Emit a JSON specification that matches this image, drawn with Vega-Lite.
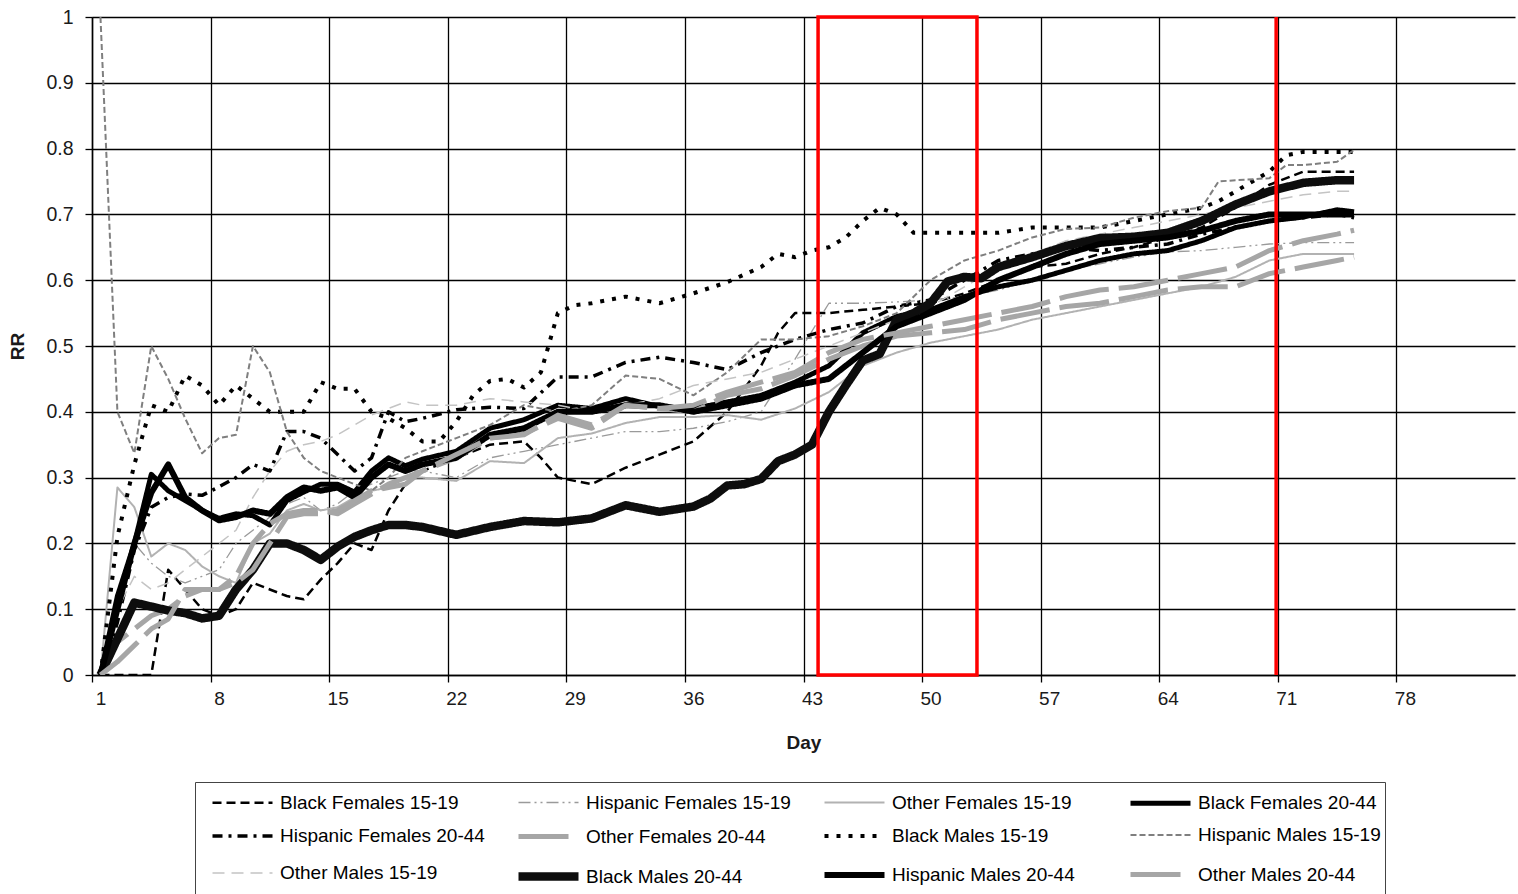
{
  "$schema": "https://vega.github.io/schema/vega-lite/v6.json",
  "width": 1423,
  "height": 658,
  "autosize": {"type": "none"},
  "padding": {"left": 92, "top": 17, "right": 3, "bottom": 219},
  "background": "white",
  "config": {
    "view": {"stroke": null},
    "font": "Liberation Sans",
    "axis": {"labelFont": "Liberation Sans", "titleFont": "Liberation Sans"}
  },
  "datasets": {
    "rr": [
      {"series":"Black Females 15-19","day":1,"rr":0},{"series":"Black Females 15-19","day":2,"rr":0},{"series":"Black Females 15-19","day":3,"rr":0},{"series":"Black Females 15-19","day":4,"rr":0},{"series":"Black Females 15-19","day":5,"rr":0.16},{"series":"Black Females 15-19","day":6,"rr":0.13},{"series":"Black Females 15-19","day":7,"rr":0.1},{"series":"Black Females 15-19","day":8,"rr":0.09},{"series":"Black Females 15-19","day":9,"rr":0.1},{"series":"Black Females 15-19","day":10,"rr":0.14},{"series":"Black Females 15-19","day":11,"rr":0.13},{"series":"Black Females 15-19","day":12,"rr":0.12},{"series":"Black Females 15-19","day":13,"rr":0.115},{"series":"Black Females 15-19","day":14,"rr":0.145},{"series":"Black Females 15-19","day":15,"rr":0.17},{"series":"Black Females 15-19","day":16,"rr":0.2},{"series":"Black Females 15-19","day":17,"rr":0.19},{"series":"Black Females 15-19","day":18,"rr":0.25},{"series":"Black Females 15-19","day":19,"rr":0.29},{"series":"Black Females 15-19","day":20,"rr":0.31},{"series":"Black Females 15-19","day":22,"rr":0.33},{"series":"Black Females 15-19","day":24,"rr":0.35},{"series":"Black Females 15-19","day":26,"rr":0.355},{"series":"Black Females 15-19","day":27,"rr":0.33},{"series":"Black Females 15-19","day":28,"rr":0.3},{"series":"Black Females 15-19","day":30,"rr":0.29},{"series":"Black Females 15-19","day":32,"rr":0.315},{"series":"Black Females 15-19","day":34,"rr":0.335},{"series":"Black Females 15-19","day":36,"rr":0.355},{"series":"Black Females 15-19","day":38,"rr":0.4},{"series":"Black Females 15-19","day":40,"rr":0.47},{"series":"Black Females 15-19","day":41,"rr":0.52},{"series":"Black Females 15-19","day":42,"rr":0.55},{"series":"Black Females 15-19","day":44,"rr":0.55},{"series":"Black Females 15-19","day":46,"rr":0.555},{"series":"Black Females 15-19","day":48,"rr":0.56},{"series":"Black Females 15-19","day":50,"rr":0.565},{"series":"Black Females 15-19","day":52,"rr":0.58},{"series":"Black Females 15-19","day":54,"rr":0.6},{"series":"Black Females 15-19","day":56,"rr":0.62},{"series":"Black Females 15-19","day":58,"rr":0.625},{"series":"Black Females 15-19","day":60,"rr":0.64},{"series":"Black Females 15-19","day":62,"rr":0.65},{"series":"Black Females 15-19","day":64,"rr":0.665},{"series":"Black Females 15-19","day":66,"rr":0.68},{"series":"Black Females 15-19","day":68,"rr":0.71},{"series":"Black Females 15-19","day":70,"rr":0.745},{"series":"Black Females 15-19","day":72,"rr":0.765},{"series":"Black Females 15-19","day":74,"rr":0.765},{"series":"Black Females 15-19","day":75,"rr":0.765},

      {"series":"Hispanic Females 15-19","day":1,"rr":0},{"series":"Hispanic Females 15-19","day":2,"rr":0.12},{"series":"Hispanic Females 15-19","day":3,"rr":0.2},{"series":"Hispanic Females 15-19","day":4,"rr":0.17},{"series":"Hispanic Females 15-19","day":5,"rr":0.15},{"series":"Hispanic Females 15-19","day":6,"rr":0.14},{"series":"Hispanic Females 15-19","day":7,"rr":0.15},{"series":"Hispanic Females 15-19","day":8,"rr":0.16},{"series":"Hispanic Females 15-19","day":9,"rr":0.2},{"series":"Hispanic Females 15-19","day":10,"rr":0.22},{"series":"Hispanic Females 15-19","day":11,"rr":0.24},{"series":"Hispanic Females 15-19","day":12,"rr":0.26},{"series":"Hispanic Females 15-19","day":13,"rr":0.27},{"series":"Hispanic Females 15-19","day":14,"rr":0.25},{"series":"Hispanic Females 15-19","day":15,"rr":0.26},{"series":"Hispanic Females 15-19","day":16,"rr":0.28},{"series":"Hispanic Females 15-19","day":17,"rr":0.29},{"series":"Hispanic Females 15-19","day":18,"rr":0.3},{"series":"Hispanic Females 15-19","day":19,"rr":0.31},{"series":"Hispanic Females 15-19","day":20,"rr":0.31},{"series":"Hispanic Females 15-19","day":22,"rr":0.3},{"series":"Hispanic Females 15-19","day":24,"rr":0.33},{"series":"Hispanic Females 15-19","day":26,"rr":0.34},{"series":"Hispanic Females 15-19","day":28,"rr":0.35},{"series":"Hispanic Females 15-19","day":30,"rr":0.36},{"series":"Hispanic Females 15-19","day":32,"rr":0.37},{"series":"Hispanic Females 15-19","day":34,"rr":0.37},{"series":"Hispanic Females 15-19","day":36,"rr":0.375},{"series":"Hispanic Females 15-19","day":38,"rr":0.385},{"series":"Hispanic Females 15-19","day":40,"rr":0.4},{"series":"Hispanic Females 15-19","day":42,"rr":0.48},{"series":"Hispanic Females 15-19","day":44,"rr":0.565},{"series":"Hispanic Females 15-19","day":46,"rr":0.565},{"series":"Hispanic Females 15-19","day":48,"rr":0.567},{"series":"Hispanic Females 15-19","day":50,"rr":0.57},{"series":"Hispanic Females 15-19","day":52,"rr":0.575},{"series":"Hispanic Females 15-19","day":54,"rr":0.585},{"series":"Hispanic Females 15-19","day":56,"rr":0.6},{"series":"Hispanic Females 15-19","day":58,"rr":0.615},{"series":"Hispanic Females 15-19","day":60,"rr":0.625},{"series":"Hispanic Females 15-19","day":62,"rr":0.635},{"series":"Hispanic Females 15-19","day":64,"rr":0.643},{"series":"Hispanic Females 15-19","day":66,"rr":0.645},{"series":"Hispanic Females 15-19","day":68,"rr":0.65},{"series":"Hispanic Females 15-19","day":70,"rr":0.655},{"series":"Hispanic Females 15-19","day":72,"rr":0.657},{"series":"Hispanic Females 15-19","day":74,"rr":0.657},{"series":"Hispanic Females 15-19","day":75,"rr":0.657},

      {"series":"Other Females 15-19","day":1,"rr":0},{"series":"Other Females 15-19","day":2,"rr":0.285},{"series":"Other Females 15-19","day":3,"rr":0.255},{"series":"Other Females 15-19","day":4,"rr":0.18},{"series":"Other Females 15-19","day":5,"rr":0.2},{"series":"Other Females 15-19","day":6,"rr":0.19},{"series":"Other Females 15-19","day":7,"rr":0.165},{"series":"Other Females 15-19","day":8,"rr":0.15},{"series":"Other Females 15-19","day":9,"rr":0.14},{"series":"Other Females 15-19","day":10,"rr":0.2},{"series":"Other Females 15-19","day":11,"rr":0.215},{"series":"Other Females 15-19","day":12,"rr":0.25},{"series":"Other Females 15-19","day":13,"rr":0.26},{"series":"Other Females 15-19","day":14,"rr":0.25},{"series":"Other Females 15-19","day":15,"rr":0.255},{"series":"Other Females 15-19","day":16,"rr":0.27},{"series":"Other Females 15-19","day":17,"rr":0.28},{"series":"Other Females 15-19","day":18,"rr":0.285},{"series":"Other Females 15-19","day":19,"rr":0.3},{"series":"Other Females 15-19","day":20,"rr":0.3},{"series":"Other Females 15-19","day":22,"rr":0.295},{"series":"Other Females 15-19","day":24,"rr":0.325},{"series":"Other Females 15-19","day":26,"rr":0.322},{"series":"Other Females 15-19","day":28,"rr":0.36},{"series":"Other Females 15-19","day":30,"rr":0.367},{"series":"Other Females 15-19","day":32,"rr":0.383},{"series":"Other Females 15-19","day":34,"rr":0.392},{"series":"Other Females 15-19","day":36,"rr":0.392},{"series":"Other Females 15-19","day":38,"rr":0.395},{"series":"Other Females 15-19","day":40,"rr":0.388},{"series":"Other Females 15-19","day":42,"rr":0.405},{"series":"Other Females 15-19","day":44,"rr":0.43},{"series":"Other Females 15-19","day":46,"rr":0.47},{"series":"Other Females 15-19","day":48,"rr":0.49},{"series":"Other Females 15-19","day":50,"rr":0.505},{"series":"Other Females 15-19","day":52,"rr":0.515},{"series":"Other Females 15-19","day":54,"rr":0.525},{"series":"Other Females 15-19","day":56,"rr":0.54},{"series":"Other Females 15-19","day":58,"rr":0.55},{"series":"Other Females 15-19","day":60,"rr":0.56},{"series":"Other Females 15-19","day":62,"rr":0.57},{"series":"Other Females 15-19","day":64,"rr":0.58},{"series":"Other Females 15-19","day":66,"rr":0.59},{"series":"Other Females 15-19","day":68,"rr":0.605},{"series":"Other Females 15-19","day":70,"rr":0.63},{"series":"Other Females 15-19","day":72,"rr":0.64},{"series":"Other Females 15-19","day":74,"rr":0.64},{"series":"Other Females 15-19","day":75,"rr":0.64},

      {"series":"Black Females 20-44","day":1,"rr":0},{"series":"Black Females 20-44","day":2,"rr":0.12},{"series":"Black Females 20-44","day":3,"rr":0.2},{"series":"Black Females 20-44","day":4,"rr":0.305},{"series":"Black Females 20-44","day":5,"rr":0.28},{"series":"Black Females 20-44","day":6,"rr":0.265},{"series":"Black Females 20-44","day":7,"rr":0.25},{"series":"Black Females 20-44","day":8,"rr":0.238},{"series":"Black Females 20-44","day":9,"rr":0.245},{"series":"Black Females 20-44","day":10,"rr":0.242},{"series":"Black Females 20-44","day":11,"rr":0.228},{"series":"Black Females 20-44","day":12,"rr":0.265},{"series":"Black Females 20-44","day":13,"rr":0.278},{"series":"Black Females 20-44","day":14,"rr":0.29},{"series":"Black Females 20-44","day":15,"rr":0.29},{"series":"Black Females 20-44","day":16,"rr":0.278},{"series":"Black Females 20-44","day":17,"rr":0.31},{"series":"Black Females 20-44","day":18,"rr":0.33},{"series":"Black Females 20-44","day":19,"rr":0.318},{"series":"Black Females 20-44","day":20,"rr":0.328},{"series":"Black Females 20-44","day":22,"rr":0.34},{"series":"Black Females 20-44","day":24,"rr":0.375},{"series":"Black Females 20-44","day":26,"rr":0.388},{"series":"Black Females 20-44","day":28,"rr":0.41},{"series":"Black Females 20-44","day":30,"rr":0.405},{"series":"Black Females 20-44","day":32,"rr":0.42},{"series":"Black Females 20-44","day":34,"rr":0.408},{"series":"Black Females 20-44","day":36,"rr":0.405},{"series":"Black Females 20-44","day":38,"rr":0.415},{"series":"Black Females 20-44","day":40,"rr":0.425},{"series":"Black Females 20-44","day":42,"rr":0.445},{"series":"Black Females 20-44","day":44,"rr":0.47},{"series":"Black Females 20-44","day":46,"rr":0.52},{"series":"Black Females 20-44","day":48,"rr":0.545},{"series":"Black Females 20-44","day":50,"rr":0.555},{"series":"Black Females 20-44","day":52,"rr":0.575},{"series":"Black Females 20-44","day":54,"rr":0.59},{"series":"Black Females 20-44","day":56,"rr":0.6},{"series":"Black Females 20-44","day":58,"rr":0.615},{"series":"Black Females 20-44","day":60,"rr":0.63},{"series":"Black Females 20-44","day":62,"rr":0.64},{"series":"Black Females 20-44","day":64,"rr":0.645},{"series":"Black Females 20-44","day":66,"rr":0.66},{"series":"Black Females 20-44","day":68,"rr":0.68},{"series":"Black Females 20-44","day":70,"rr":0.69},{"series":"Black Females 20-44","day":72,"rr":0.696},{"series":"Black Females 20-44","day":74,"rr":0.707},{"series":"Black Females 20-44","day":75,"rr":0.704},

      {"series":"Hispanic Females 20-44","day":1,"rr":0},{"series":"Hispanic Females 20-44","day":2,"rr":0.08},{"series":"Hispanic Females 20-44","day":3,"rr":0.19},{"series":"Hispanic Females 20-44","day":4,"rr":0.255},{"series":"Hispanic Females 20-44","day":5,"rr":0.27},{"series":"Hispanic Females 20-44","day":6,"rr":0.275},{"series":"Hispanic Females 20-44","day":7,"rr":0.273},{"series":"Hispanic Females 20-44","day":8,"rr":0.286},{"series":"Hispanic Females 20-44","day":9,"rr":0.3},{"series":"Hispanic Females 20-44","day":10,"rr":0.32},{"series":"Hispanic Females 20-44","day":11,"rr":0.31},{"series":"Hispanic Females 20-44","day":12,"rr":0.37},{"series":"Hispanic Females 20-44","day":13,"rr":0.37},{"series":"Hispanic Females 20-44","day":14,"rr":0.36},{"series":"Hispanic Females 20-44","day":15,"rr":0.335},{"series":"Hispanic Females 20-44","day":16,"rr":0.31},{"series":"Hispanic Females 20-44","day":17,"rr":0.33},{"series":"Hispanic Females 20-44","day":18,"rr":0.4},{"series":"Hispanic Females 20-44","day":19,"rr":0.385},{"series":"Hispanic Females 20-44","day":20,"rr":0.39},{"series":"Hispanic Females 20-44","day":22,"rr":0.403},{"series":"Hispanic Females 20-44","day":24,"rr":0.407},{"series":"Hispanic Females 20-44","day":26,"rr":0.405},{"series":"Hispanic Females 20-44","day":28,"rr":0.453},{"series":"Hispanic Females 20-44","day":30,"rr":0.453},{"series":"Hispanic Females 20-44","day":32,"rr":0.475},{"series":"Hispanic Females 20-44","day":34,"rr":0.483},{"series":"Hispanic Females 20-44","day":36,"rr":0.475},{"series":"Hispanic Females 20-44","day":38,"rr":0.464},{"series":"Hispanic Females 20-44","day":40,"rr":0.49},{"series":"Hispanic Females 20-44","day":42,"rr":0.51},{"series":"Hispanic Females 20-44","day":44,"rr":0.525},{"series":"Hispanic Females 20-44","day":46,"rr":0.535},{"series":"Hispanic Females 20-44","day":48,"rr":0.56},{"series":"Hispanic Females 20-44","day":50,"rr":0.57},{"series":"Hispanic Females 20-44","day":52,"rr":0.6},{"series":"Hispanic Females 20-44","day":54,"rr":0.63},{"series":"Hispanic Females 20-44","day":56,"rr":0.64},{"series":"Hispanic Females 20-44","day":58,"rr":0.65},{"series":"Hispanic Females 20-44","day":60,"rr":0.645},{"series":"Hispanic Females 20-44","day":62,"rr":0.65},{"series":"Hispanic Females 20-44","day":64,"rr":0.655},{"series":"Hispanic Females 20-44","day":66,"rr":0.67},{"series":"Hispanic Females 20-44","day":68,"rr":0.68},{"series":"Hispanic Females 20-44","day":70,"rr":0.69},{"series":"Hispanic Females 20-44","day":72,"rr":0.695},{"series":"Hispanic Females 20-44","day":74,"rr":0.7},{"series":"Hispanic Females 20-44","day":75,"rr":0.695},

      {"series":"Other Females 20-44","day":1,"rr":0},{"series":"Other Females 20-44","day":2,"rr":0.05},{"series":"Other Females 20-44","day":3,"rr":0.07},{"series":"Other Females 20-44","day":4,"rr":0.09},{"series":"Other Females 20-44","day":5,"rr":0.1},{"series":"Other Females 20-44","day":6,"rr":0.12},{"series":"Other Females 20-44","day":7,"rr":0.13},{"series":"Other Females 20-44","day":8,"rr":0.13},{"series":"Other Females 20-44","day":9,"rr":0.15},{"series":"Other Females 20-44","day":10,"rr":0.2},{"series":"Other Females 20-44","day":11,"rr":0.23},{"series":"Other Females 20-44","day":12,"rr":0.245},{"series":"Other Females 20-44","day":13,"rr":0.25},{"series":"Other Females 20-44","day":14,"rr":0.25},{"series":"Other Females 20-44","day":15,"rr":0.245},{"series":"Other Females 20-44","day":16,"rr":0.26},{"series":"Other Females 20-44","day":17,"rr":0.275},{"series":"Other Females 20-44","day":18,"rr":0.29},{"series":"Other Females 20-44","day":19,"rr":0.3},{"series":"Other Females 20-44","day":20,"rr":0.31},{"series":"Other Females 20-44","day":22,"rr":0.33},{"series":"Other Females 20-44","day":24,"rr":0.36},{"series":"Other Females 20-44","day":26,"rr":0.367},{"series":"Other Females 20-44","day":28,"rr":0.39},{"series":"Other Females 20-44","day":30,"rr":0.375},{"series":"Other Females 20-44","day":32,"rr":0.41},{"series":"Other Females 20-44","day":34,"rr":0.405},{"series":"Other Females 20-44","day":36,"rr":0.4},{"series":"Other Females 20-44","day":38,"rr":0.425},{"series":"Other Females 20-44","day":40,"rr":0.435},{"series":"Other Females 20-44","day":42,"rr":0.455},{"series":"Other Females 20-44","day":44,"rr":0.48},{"series":"Other Females 20-44","day":46,"rr":0.5},{"series":"Other Females 20-44","day":48,"rr":0.515},{"series":"Other Females 20-44","day":50,"rr":0.52},{"series":"Other Females 20-44","day":52,"rr":0.525},{"series":"Other Females 20-44","day":54,"rr":0.54},{"series":"Other Females 20-44","day":56,"rr":0.55},{"series":"Other Females 20-44","day":58,"rr":0.56},{"series":"Other Females 20-44","day":60,"rr":0.565},{"series":"Other Females 20-44","day":62,"rr":0.575},{"series":"Other Females 20-44","day":64,"rr":0.585},{"series":"Other Females 20-44","day":66,"rr":0.59},{"series":"Other Females 20-44","day":68,"rr":0.59},{"series":"Other Females 20-44","day":70,"rr":0.61},{"series":"Other Females 20-44","day":72,"rr":0.62},{"series":"Other Females 20-44","day":74,"rr":0.63},{"series":"Other Females 20-44","day":75,"rr":0.635},

      {"series":"Black Males 15-19","day":1,"rr":0},{"series":"Black Males 15-19","day":2,"rr":0.21},{"series":"Black Males 15-19","day":3,"rr":0.32},{"series":"Black Males 15-19","day":4,"rr":0.41},{"series":"Black Males 15-19","day":5,"rr":0.4},{"series":"Black Males 15-19","day":6,"rr":0.455},{"series":"Black Males 15-19","day":7,"rr":0.44},{"series":"Black Males 15-19","day":8,"rr":0.41},{"series":"Black Males 15-19","day":9,"rr":0.44},{"series":"Black Males 15-19","day":10,"rr":0.42},{"series":"Black Males 15-19","day":11,"rr":0.4},{"series":"Black Males 15-19","day":12,"rr":0.4},{"series":"Black Males 15-19","day":13,"rr":0.4},{"series":"Black Males 15-19","day":14,"rr":0.445},{"series":"Black Males 15-19","day":15,"rr":0.435},{"series":"Black Males 15-19","day":16,"rr":0.435},{"series":"Black Males 15-19","day":17,"rr":0.4},{"series":"Black Males 15-19","day":18,"rr":0.39},{"series":"Black Males 15-19","day":19,"rr":0.375},{"series":"Black Males 15-19","day":20,"rr":0.355},{"series":"Black Males 15-19","day":21,"rr":0.355},{"series":"Black Males 15-19","day":22,"rr":0.385},{"series":"Black Males 15-19","day":23,"rr":0.425},{"series":"Black Males 15-19","day":24,"rr":0.447},{"series":"Black Males 15-19","day":25,"rr":0.45},{"series":"Black Males 15-19","day":26,"rr":0.437},{"series":"Black Males 15-19","day":27,"rr":0.46},{"series":"Black Males 15-19","day":28,"rr":0.55},{"series":"Black Males 15-19","day":29,"rr":0.562},{"series":"Black Males 15-19","day":30,"rr":0.565},{"series":"Black Males 15-19","day":32,"rr":0.575},{"series":"Black Males 15-19","day":34,"rr":0.565},{"series":"Black Males 15-19","day":36,"rr":0.58},{"series":"Black Males 15-19","day":38,"rr":0.597},{"series":"Black Males 15-19","day":40,"rr":0.62},{"series":"Black Males 15-19","day":41,"rr":0.64},{"series":"Black Males 15-19","day":42,"rr":0.635},{"series":"Black Males 15-19","day":43,"rr":0.645},{"series":"Black Males 15-19","day":44,"rr":0.65},{"series":"Black Males 15-19","day":45,"rr":0.665},{"series":"Black Males 15-19","day":46,"rr":0.69},{"series":"Black Males 15-19","day":47,"rr":0.71},{"series":"Black Males 15-19","day":48,"rr":0.7},{"series":"Black Males 15-19","day":49,"rr":0.672},{"series":"Black Males 15-19","day":50,"rr":0.672},{"series":"Black Males 15-19","day":52,"rr":0.672},{"series":"Black Males 15-19","day":54,"rr":0.672},{"series":"Black Males 15-19","day":56,"rr":0.68},{"series":"Black Males 15-19","day":58,"rr":0.68},{"series":"Black Males 15-19","day":60,"rr":0.68},{"series":"Black Males 15-19","day":62,"rr":0.69},{"series":"Black Males 15-19","day":64,"rr":0.7},{"series":"Black Males 15-19","day":66,"rr":0.71},{"series":"Black Males 15-19","day":67,"rr":0.72},{"series":"Black Males 15-19","day":68,"rr":0.735},{"series":"Black Males 15-19","day":69,"rr":0.75},{"series":"Black Males 15-19","day":70,"rr":0.765},{"series":"Black Males 15-19","day":71,"rr":0.79},{"series":"Black Males 15-19","day":72,"rr":0.795},{"series":"Black Males 15-19","day":74,"rr":0.795},{"series":"Black Males 15-19","day":75,"rr":0.795},

      {"series":"Hispanic Males 15-19","day":1,"rr":1},{"series":"Hispanic Males 15-19","day":2,"rr":0.4},{"series":"Hispanic Males 15-19","day":3,"rr":0.337},{"series":"Hispanic Males 15-19","day":4,"rr":0.5},{"series":"Hispanic Males 15-19","day":5,"rr":0.45},{"series":"Hispanic Males 15-19","day":6,"rr":0.39},{"series":"Hispanic Males 15-19","day":7,"rr":0.337},{"series":"Hispanic Males 15-19","day":8,"rr":0.36},{"series":"Hispanic Males 15-19","day":9,"rr":0.365},{"series":"Hispanic Males 15-19","day":10,"rr":0.5},{"series":"Hispanic Males 15-19","day":11,"rr":0.46},{"series":"Hispanic Males 15-19","day":12,"rr":0.37},{"series":"Hispanic Males 15-19","day":13,"rr":0.33},{"series":"Hispanic Males 15-19","day":14,"rr":0.31},{"series":"Hispanic Males 15-19","day":15,"rr":0.3},{"series":"Hispanic Males 15-19","day":16,"rr":0.29},{"series":"Hispanic Males 15-19","day":17,"rr":0.28},{"series":"Hispanic Males 15-19","day":18,"rr":0.3},{"series":"Hispanic Males 15-19","day":19,"rr":0.33},{"series":"Hispanic Males 15-19","day":20,"rr":0.34},{"series":"Hispanic Males 15-19","day":22,"rr":0.36},{"series":"Hispanic Males 15-19","day":24,"rr":0.38},{"series":"Hispanic Males 15-19","day":26,"rr":0.41},{"series":"Hispanic Males 15-19","day":28,"rr":0.4},{"series":"Hispanic Males 15-19","day":30,"rr":0.41},{"series":"Hispanic Males 15-19","day":32,"rr":0.455},{"series":"Hispanic Males 15-19","day":34,"rr":0.45},{"series":"Hispanic Males 15-19","day":36,"rr":0.425},{"series":"Hispanic Males 15-19","day":38,"rr":0.46},{"series":"Hispanic Males 15-19","day":40,"rr":0.51},{"series":"Hispanic Males 15-19","day":42,"rr":0.51},{"series":"Hispanic Males 15-19","day":44,"rr":0.515},{"series":"Hispanic Males 15-19","day":46,"rr":0.53},{"series":"Hispanic Males 15-19","day":48,"rr":0.55},{"series":"Hispanic Males 15-19","day":50,"rr":0.6},{"series":"Hispanic Males 15-19","day":52,"rr":0.63},{"series":"Hispanic Males 15-19","day":54,"rr":0.645},{"series":"Hispanic Males 15-19","day":56,"rr":0.665},{"series":"Hispanic Males 15-19","day":58,"rr":0.678},{"series":"Hispanic Males 15-19","day":60,"rr":0.68},{"series":"Hispanic Males 15-19","day":62,"rr":0.695},{"series":"Hispanic Males 15-19","day":64,"rr":0.705},{"series":"Hispanic Males 15-19","day":66,"rr":0.71},{"series":"Hispanic Males 15-19","day":67,"rr":0.75},{"series":"Hispanic Males 15-19","day":68,"rr":0.752},{"series":"Hispanic Males 15-19","day":70,"rr":0.755},{"series":"Hispanic Males 15-19","day":71,"rr":0.775},{"series":"Hispanic Males 15-19","day":72,"rr":0.775},{"series":"Hispanic Males 15-19","day":74,"rr":0.78},{"series":"Hispanic Males 15-19","day":75,"rr":0.798},

      {"series":"Other Males 15-19","day":1,"rr":0},{"series":"Other Males 15-19","day":2,"rr":0.1},{"series":"Other Males 15-19","day":3,"rr":0.15},{"series":"Other Males 15-19","day":4,"rr":0.13},{"series":"Other Males 15-19","day":5,"rr":0.14},{"series":"Other Males 15-19","day":6,"rr":0.16},{"series":"Other Males 15-19","day":7,"rr":0.18},{"series":"Other Males 15-19","day":8,"rr":0.2},{"series":"Other Males 15-19","day":9,"rr":0.22},{"series":"Other Males 15-19","day":10,"rr":0.27},{"series":"Other Males 15-19","day":11,"rr":0.31},{"series":"Other Males 15-19","day":12,"rr":0.34},{"series":"Other Males 15-19","day":13,"rr":0.35},{"series":"Other Males 15-19","day":14,"rr":0.355},{"series":"Other Males 15-19","day":15,"rr":0.365},{"series":"Other Males 15-19","day":16,"rr":0.38},{"series":"Other Males 15-19","day":17,"rr":0.395},{"series":"Other Males 15-19","day":18,"rr":0.405},{"series":"Other Males 15-19","day":19,"rr":0.415},{"series":"Other Males 15-19","day":20,"rr":0.41},{"series":"Other Males 15-19","day":22,"rr":0.41},{"series":"Other Males 15-19","day":24,"rr":0.42},{"series":"Other Males 15-19","day":26,"rr":0.415},{"series":"Other Males 15-19","day":28,"rr":0.41},{"series":"Other Males 15-19","day":30,"rr":0.4},{"series":"Other Males 15-19","day":32,"rr":0.41},{"series":"Other Males 15-19","day":34,"rr":0.42},{"series":"Other Males 15-19","day":36,"rr":0.44},{"series":"Other Males 15-19","day":38,"rr":0.45},{"series":"Other Males 15-19","day":40,"rr":0.46},{"series":"Other Males 15-19","day":42,"rr":0.48},{"series":"Other Males 15-19","day":44,"rr":0.5},{"series":"Other Males 15-19","day":46,"rr":0.52},{"series":"Other Males 15-19","day":48,"rr":0.54},{"series":"Other Males 15-19","day":50,"rr":0.56},{"series":"Other Males 15-19","day":52,"rr":0.59},{"series":"Other Males 15-19","day":54,"rr":0.62},{"series":"Other Males 15-19","day":56,"rr":0.64},{"series":"Other Males 15-19","day":58,"rr":0.66},{"series":"Other Males 15-19","day":60,"rr":0.67},{"series":"Other Males 15-19","day":62,"rr":0.68},{"series":"Other Males 15-19","day":64,"rr":0.69},{"series":"Other Males 15-19","day":66,"rr":0.7},{"series":"Other Males 15-19","day":68,"rr":0.71},{"series":"Other Males 15-19","day":70,"rr":0.72},{"series":"Other Males 15-19","day":72,"rr":0.73},{"series":"Other Males 15-19","day":74,"rr":0.735},{"series":"Other Males 15-19","day":75,"rr":0.735},

      {"series":"Black Males 20-44","day":1,"rr":0},{"series":"Black Males 20-44","day":2,"rr":0.055},{"series":"Black Males 20-44","day":3,"rr":0.11},{"series":"Black Males 20-44","day":4,"rr":0.104},{"series":"Black Males 20-44","day":5,"rr":0.098},{"series":"Black Males 20-44","day":6,"rr":0.094},{"series":"Black Males 20-44","day":7,"rr":0.086},{"series":"Black Males 20-44","day":8,"rr":0.09},{"series":"Black Males 20-44","day":9,"rr":0.13},{"series":"Black Males 20-44","day":10,"rr":0.16},{"series":"Black Males 20-44","day":11,"rr":0.2},{"series":"Black Males 20-44","day":12,"rr":0.2},{"series":"Black Males 20-44","day":13,"rr":0.19},{"series":"Black Males 20-44","day":14,"rr":0.175},{"series":"Black Males 20-44","day":15,"rr":0.195},{"series":"Black Males 20-44","day":16,"rr":0.21},{"series":"Black Males 20-44","day":17,"rr":0.22},{"series":"Black Males 20-44","day":18,"rr":0.228},{"series":"Black Males 20-44","day":19,"rr":0.228},{"series":"Black Males 20-44","day":20,"rr":0.225},{"series":"Black Males 20-44","day":22,"rr":0.213},{"series":"Black Males 20-44","day":24,"rr":0.225},{"series":"Black Males 20-44","day":26,"rr":0.234},{"series":"Black Males 20-44","day":28,"rr":0.232},{"series":"Black Males 20-44","day":30,"rr":0.238},{"series":"Black Males 20-44","day":32,"rr":0.258},{"series":"Black Males 20-44","day":34,"rr":0.248},{"series":"Black Males 20-44","day":36,"rr":0.256},{"series":"Black Males 20-44","day":37,"rr":0.268},{"series":"Black Males 20-44","day":38,"rr":0.288},{"series":"Black Males 20-44","day":39,"rr":0.29},{"series":"Black Males 20-44","day":40,"rr":0.298},{"series":"Black Males 20-44","day":41,"rr":0.325},{"series":"Black Males 20-44","day":42,"rr":0.335},{"series":"Black Males 20-44","day":43,"rr":0.35},{"series":"Black Males 20-44","day":44,"rr":0.4},{"series":"Black Males 20-44","day":45,"rr":0.44},{"series":"Black Males 20-44","day":46,"rr":0.478},{"series":"Black Males 20-44","day":47,"rr":0.488},{"series":"Black Males 20-44","day":48,"rr":0.54},{"series":"Black Males 20-44","day":49,"rr":0.55},{"series":"Black Males 20-44","day":50,"rr":0.565},{"series":"Black Males 20-44","day":51,"rr":0.598},{"series":"Black Males 20-44","day":52,"rr":0.605},{"series":"Black Males 20-44","day":53,"rr":0.603},{"series":"Black Males 20-44","day":54,"rr":0.62},{"series":"Black Males 20-44","day":56,"rr":0.635},{"series":"Black Males 20-44","day":58,"rr":0.652},{"series":"Black Males 20-44","day":60,"rr":0.664},{"series":"Black Males 20-44","day":62,"rr":0.666},{"series":"Black Males 20-44","day":64,"rr":0.672},{"series":"Black Males 20-44","day":66,"rr":0.69},{"series":"Black Males 20-44","day":68,"rr":0.715},{"series":"Black Males 20-44","day":70,"rr":0.735},{"series":"Black Males 20-44","day":72,"rr":0.748},{"series":"Black Males 20-44","day":74,"rr":0.752},{"series":"Black Males 20-44","day":75,"rr":0.752},

      {"series":"Hispanic Males 20-44","day":1,"rr":0},{"series":"Hispanic Males 20-44","day":2,"rr":0.1},{"series":"Hispanic Males 20-44","day":3,"rr":0.2},{"series":"Hispanic Males 20-44","day":4,"rr":0.277},{"series":"Hispanic Males 20-44","day":5,"rr":0.32},{"series":"Hispanic Males 20-44","day":6,"rr":0.27},{"series":"Hispanic Males 20-44","day":7,"rr":0.25},{"series":"Hispanic Males 20-44","day":8,"rr":0.235},{"series":"Hispanic Males 20-44","day":9,"rr":0.24},{"series":"Hispanic Males 20-44","day":10,"rr":0.25},{"series":"Hispanic Males 20-44","day":11,"rr":0.245},{"series":"Hispanic Males 20-44","day":12,"rr":0.27},{"series":"Hispanic Males 20-44","day":13,"rr":0.285},{"series":"Hispanic Males 20-44","day":14,"rr":0.28},{"series":"Hispanic Males 20-44","day":15,"rr":0.285},{"series":"Hispanic Males 20-44","day":16,"rr":0.27},{"series":"Hispanic Males 20-44","day":17,"rr":0.3},{"series":"Hispanic Males 20-44","day":18,"rr":0.32},{"series":"Hispanic Males 20-44","day":19,"rr":0.31},{"series":"Hispanic Males 20-44","day":20,"rr":0.32},{"series":"Hispanic Males 20-44","day":22,"rr":0.33},{"series":"Hispanic Males 20-44","day":24,"rr":0.365},{"series":"Hispanic Males 20-44","day":26,"rr":0.375},{"series":"Hispanic Males 20-44","day":28,"rr":0.4},{"series":"Hispanic Males 20-44","day":30,"rr":0.4},{"series":"Hispanic Males 20-44","day":32,"rr":0.41},{"series":"Hispanic Males 20-44","day":34,"rr":0.41},{"series":"Hispanic Males 20-44","day":36,"rr":0.4},{"series":"Hispanic Males 20-44","day":38,"rr":0.41},{"series":"Hispanic Males 20-44","day":40,"rr":0.42},{"series":"Hispanic Males 20-44","day":42,"rr":0.44},{"series":"Hispanic Males 20-44","day":44,"rr":0.45},{"series":"Hispanic Males 20-44","day":46,"rr":0.49},{"series":"Hispanic Males 20-44","day":48,"rr":0.53},{"series":"Hispanic Males 20-44","day":50,"rr":0.55},{"series":"Hispanic Males 20-44","day":52,"rr":0.57},{"series":"Hispanic Males 20-44","day":54,"rr":0.6},{"series":"Hispanic Males 20-44","day":56,"rr":0.62},{"series":"Hispanic Males 20-44","day":58,"rr":0.64},{"series":"Hispanic Males 20-44","day":60,"rr":0.655},{"series":"Hispanic Males 20-44","day":62,"rr":0.66},{"series":"Hispanic Males 20-44","day":64,"rr":0.665},{"series":"Hispanic Males 20-44","day":66,"rr":0.675},{"series":"Hispanic Males 20-44","day":68,"rr":0.69},{"series":"Hispanic Males 20-44","day":70,"rr":0.7},{"series":"Hispanic Males 20-44","day":72,"rr":0.7},{"series":"Hispanic Males 20-44","day":74,"rr":0.7},{"series":"Hispanic Males 20-44","day":75,"rr":0.7},

      {"series":"Other Males 20-44","day":1,"rr":0},{"series":"Other Males 20-44","day":2,"rr":0.02},{"series":"Other Males 20-44","day":3,"rr":0.045},{"series":"Other Males 20-44","day":4,"rr":0.07},{"series":"Other Males 20-44","day":5,"rr":0.085},{"series":"Other Males 20-44","day":6,"rr":0.13},{"series":"Other Males 20-44","day":7,"rr":0.13},{"series":"Other Males 20-44","day":8,"rr":0.13},{"series":"Other Males 20-44","day":9,"rr":0.14},{"series":"Other Males 20-44","day":10,"rr":0.16},{"series":"Other Males 20-44","day":11,"rr":0.2},{"series":"Other Males 20-44","day":12,"rr":0.24},{"series":"Other Males 20-44","day":13,"rr":0.245},{"series":"Other Males 20-44","day":14,"rr":0.245},{"series":"Other Males 20-44","day":15,"rr":0.25},{"series":"Other Males 20-44","day":16,"rr":0.265},{"series":"Other Males 20-44","day":17,"rr":0.28},{"series":"Other Males 20-44","day":18,"rr":0.285},{"series":"Other Males 20-44","day":19,"rr":0.29},{"series":"Other Males 20-44","day":20,"rr":0.31},{"series":"Other Males 20-44","day":22,"rr":0.335},{"series":"Other Males 20-44","day":24,"rr":0.36},{"series":"Other Males 20-44","day":26,"rr":0.365},{"series":"Other Males 20-44","day":28,"rr":0.395},{"series":"Other Males 20-44","day":30,"rr":0.38},{"series":"Other Males 20-44","day":32,"rr":0.41},{"series":"Other Males 20-44","day":34,"rr":0.405},{"series":"Other Males 20-44","day":36,"rr":0.41},{"series":"Other Males 20-44","day":38,"rr":0.43},{"series":"Other Males 20-44","day":40,"rr":0.445},{"series":"Other Males 20-44","day":42,"rr":0.46},{"series":"Other Males 20-44","day":44,"rr":0.49},{"series":"Other Males 20-44","day":46,"rr":0.51},{"series":"Other Males 20-44","day":48,"rr":0.52},{"series":"Other Males 20-44","day":50,"rr":0.53},{"series":"Other Males 20-44","day":52,"rr":0.54},{"series":"Other Males 20-44","day":54,"rr":0.55},{"series":"Other Males 20-44","day":56,"rr":0.56},{"series":"Other Males 20-44","day":58,"rr":0.575},{"series":"Other Males 20-44","day":60,"rr":0.585},{"series":"Other Males 20-44","day":62,"rr":0.59},{"series":"Other Males 20-44","day":64,"rr":0.6},{"series":"Other Males 20-44","day":66,"rr":0.61},{"series":"Other Males 20-44","day":68,"rr":0.62},{"series":"Other Males 20-44","day":70,"rr":0.645},{"series":"Other Males 20-44","day":72,"rr":0.66},{"series":"Other Males 20-44","day":74,"rr":0.67},{"series":"Other Males 20-44","day":75,"rr":0.676}
    ],
    "box": [{"from": 43.36, "to": 52.74}],
    "marker": [{"day": 70.4}]
  },
  "layer": [
    {
      "data": {"name": "rr"},
      "mark": {"type": "line", "strokeJoin": "round", "clip": true},
      "encoding": {
        "x": {
          "field": "day", "type": "quantitative",
          "scale": {"domain": [0.5, 84.5], "nice": false, "zero": false},
          "axis": {
            "values": [1, 8, 15, 22, 29, 36, 43, 50, 57, 64, 71, 78, 85],
            "tickOffset": -8.47, "labelOffset": 8.47,
            "labelExpr": "datum.value > 80 ? '' : datum.label",
            "grid": true, "gridColor": "#000000", "gridWidth": 1.3, "gridOpacity": 1,
            "domainColor": "#000000", "domainWidth": 1.5,
            "tickColor": "#000000", "tickSize": 7, "tickWidth": 1.3,
            "labelFontSize": 19, "labelColor": "#1a1a1a", "labelPadding": 7,
            "labelFlush": false, "labelOverlap": false, "labelBound": false,
            "title": "Day", "titleFontSize": 19, "titleFontWeight": "bold", "titleColor": "#1a1a1a", "titlePadding": 25
          }
        },
        "y": {
          "field": "rr", "type": "quantitative",
          "scale": {"domain": [0, 1], "nice": false},
          "axis": {
            "values": [0, 0.1, 0.2, 0.3, 0.4, 0.5, 0.6, 0.7, 0.8, 0.9, 1],
            "format": "~g",
            "grid": true, "gridColor": "#000000", "gridWidth": 1.3, "gridOpacity": 1,
            "domainColor": "#000000", "domainWidth": 1.5,
            "tickColor": "#000000", "tickSize": 7, "tickWidth": 1.3,
            "labelFontSize": 19.5, "labelColor": "#1a1a1a", "labelPadding": 12,
            "labelFlush": false, "labelOverlap": false,
            "title": "RR", "titleFontSize": 19, "titleFontWeight": "bold", "titleColor": "#1a1a1a", "titlePadding": 18
          }
        },
        "color": {
          "field": "series", "type": "nominal",
          "scale": {
            "domain": ["Black Females 15-19", "Hispanic Females 15-19", "Other Females 15-19", "Black Females 20-44", "Hispanic Females 20-44", "Other Females 20-44", "Black Males 15-19", "Hispanic Males 15-19", "Other Males 15-19", "Black Males 20-44", "Hispanic Males 20-44", "Other Males 20-44"],
            "range": ["#000000", "#9a9a9a", "#b2b2b2", "#000000", "#000000", "#a6a6a6", "#000000", "#7f7f7f", "#c4c4c4", "#0d0d0d", "#000000", "#a6a6a6"]
          },
          "legend": {
            "title": null, "orient": "none", "legendX": 103, "legendY": 765, "direction": "horizontal", "columns": 4,
            "symbolType": "M-0.1,0H5.9", "symbolSize": 400,
            "labelFontSize": 19, "labelFont": "Liberation Sans", "labelColor": "#000000", "labelLimit": 400, "labelOffset": 52,
            "strokeColor": "#444444", "padding": 4, "rowPadding": 3, "columnPadding": 16, "gridAlign": "all"
          }
        },
        "strokeDash": {
          "field": "series", "type": "nominal",
          "scale": {
            "domain": ["Black Females 15-19", "Hispanic Females 15-19", "Other Females 15-19", "Black Females 20-44", "Hispanic Females 20-44", "Other Females 20-44", "Black Males 15-19", "Hispanic Males 15-19", "Other Males 15-19", "Black Males 20-44", "Hispanic Males 20-44", "Other Males 20-44"],
            "range": [[9, 5], [12, 4, 2, 4, 2, 4], [1, 0], [1, 0], [10, 6, 3, 6], [50, 10], [4, 8], [6, 3], [12, 7], [1, 0], [1, 0], [50, 10]]
          }
        },
        "strokeWidth": {
          "field": "series", "type": "nominal",
          "scale": {
            "type": "ordinal",
            "domain": ["Black Females 15-19", "Hispanic Females 15-19", "Other Females 15-19", "Black Females 20-44", "Hispanic Females 20-44", "Other Females 20-44", "Black Males 15-19", "Hispanic Males 15-19", "Other Males 15-19", "Black Males 20-44", "Hispanic Males 20-44", "Other Males 20-44"],
            "range": [2.5, 1.3, 2, 5, 3.5, 5, 4, 2, 1.5, 8.5, 6, 5]
          }
        }
      }
    },
    {
      "data": {"name": "box"},
      "mark": {"type": "rect", "fill": null, "stroke": "#ff0000", "strokeWidth": 3.5},
      "encoding": {
        "x": {"field": "from", "type": "quantitative", "axis": {"title": "Day"}},
        "x2": {"field": "to"},
        "y": {"datum": 0, "type": "quantitative", "axis": {"title": "RR"}},
        "y2": {"datum": 1}
      }
    },
    {
      "data": {"name": "marker"},
      "mark": {"type": "rule", "color": "#ff0000", "strokeWidth": 3.5},
      "encoding": {
        "x": {"field": "day", "type": "quantitative", "axis": {"title": "Day"}},
        "y": {"datum": 0, "type": "quantitative", "axis": {"title": "RR"}},
        "y2": {"datum": 1}
      }
    }
  ]
}
